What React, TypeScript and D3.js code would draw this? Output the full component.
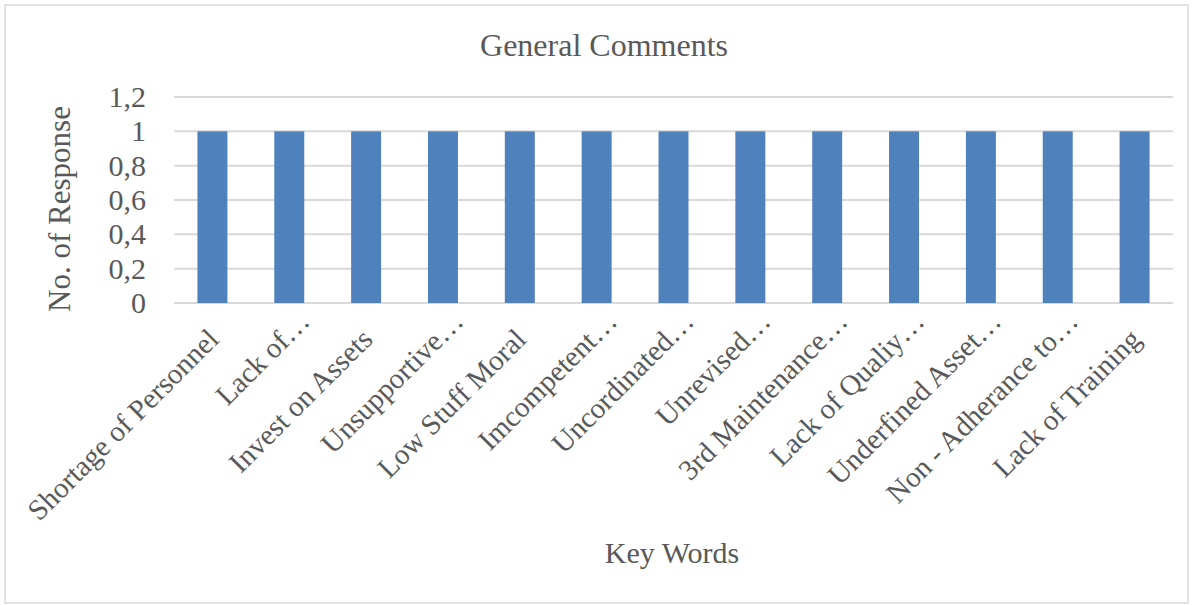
import React from "react";
import * as d3 from "d3";

const categories = [
  "Shortage of Personnel",
  "Lack of…",
  "Invest on Assets",
  "Unsupportive…",
  "Low Stuff Moral",
  "Imcompetent…",
  "Uncordinated…",
  "Unrevised…",
  "3rd Maintenance…",
  "Lack of Qualiy…",
  "Underfined Asset…",
  "Non - Adherance to…",
  "Lack of Training",
];
const responses = [1, 1, 1, 1, 1, 1, 1, 1, 1, 1, 1, 1, 1];
const yTicks = [0, 0.2, 0.4, 0.6, 0.8, 1, 1.2];

const W = 1194;
const H = 605;
const FONT = "'Liberation Serif', 'Times New Roman', serif";
const TXT = "#595959";
const GRID = "#d9d9d9";

export default function App() {
  const x = d3
    .scaleBand<string>()
    .domain(categories)
    .range([174, 1173])
    .paddingInner(0.61)
    .paddingOuter(0.305);
  const y = d3.scaleLinear().domain([0, 1.2]).range([303, 97]);
  const fmt = (v: number) => String(+v.toFixed(1)).replace(".", ",");

  return (
    <svg
      width={W}
      height={H}
      style={{ position: "absolute", left: 0, top: 0, background: "#fff" }}
    >
      <rect x={5} y={5} width={1183} height={598} fill="#fff" stroke={GRID} strokeWidth={1.5} />
      <text x={604} y={56} textAnchor="middle" fontFamily={FONT} fontSize={32} fill={TXT}>
        General Comments
      </text>
      {yTicks.map((t) => (
        <line key={"g" + t} x1={174} x2={1173} y1={y(t)} y2={y(t)} stroke={GRID} strokeWidth={2} />
      ))}
      {yTicks.map((t) => (
        <text
          key={"t" + t}
          x={146}
          y={y(t) + 10}
          textAnchor="end"
          fontFamily={FONT}
          fontSize={30}
          fill={TXT}
        >
          {fmt(t)}
        </text>
      ))}
      {categories.map((c, i) => (
        <rect
          key={"b" + c}
          x={x(c)!}
          y={y(responses[i])}
          width={x.bandwidth()}
          height={y(0) - y(responses[i])}
          fill="#4F81BD"
        />
      ))}
      {categories.map((c) => {
        const cx = x(c)! + x.bandwidth() / 2;
        const trunc = c.endsWith("…");
        const ax = trunc ? cx + 22 : cx + 8;
        const ay = trunc ? y(0) + 20 : y(0) + 38;
        return (
          <text
            key={"l" + c}
            transform={`translate(${ax},${ay}) rotate(-45)`}
            textAnchor="end"
            fontFamily={FONT}
            fontSize={29}
            fill={TXT}
          >
            {c}
          </text>
        );
      })}
      <text
        transform={`translate(70,209) rotate(-90)`}
        textAnchor="middle"
        fontFamily={FONT}
        fontSize={31}
        fill={TXT}
      >
        No. of Response
      </text>
      <text x={672} y={563} textAnchor="middle" fontFamily={FONT} fontSize={30} fill={TXT}>
        Key Words
      </text>
    </svg>
  );
}
